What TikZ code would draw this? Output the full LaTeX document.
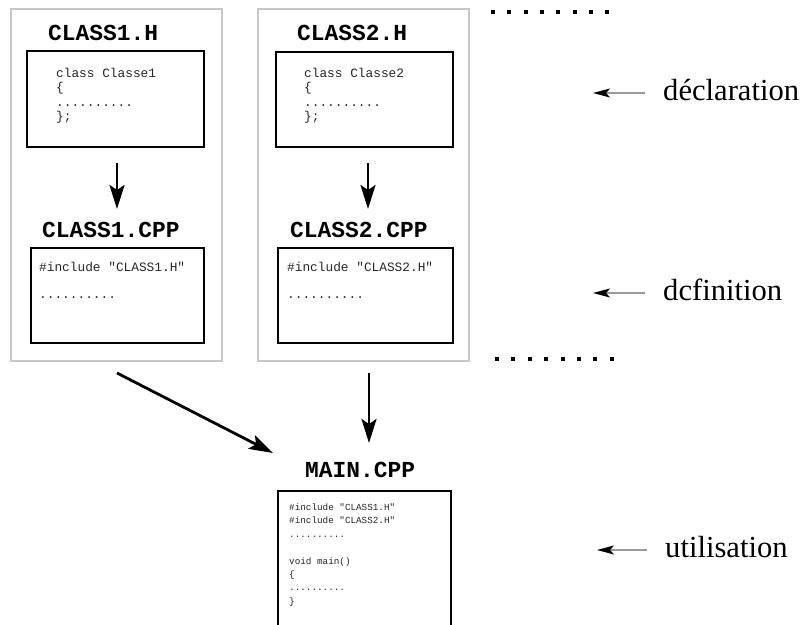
\documentclass[tikz,border=0pt]{standalone}
\usepackage{fontspec}
\setmainfont{Liberation Serif}
\setmonofont{Liberation Mono}
\usetikzlibrary{arrows.meta}
\tikzset{
  outerbox/.style={draw=black!22, line width=1.5pt},
  innerbox/.style={draw=black, line width=2.4pt},
  title/.style={anchor=base west, inner sep=0pt, font=\fontsize{22.9}{24}\selectfont\ttfamily\bfseries},
  code/.style={anchor=base west, inner sep=0pt, font=\fontsize{12.8}{14}\selectfont\ttfamily, text=black!85},
  smallcode/.style={anchor=base west, inner sep=0pt, font=\fontsize{9.3}{11}\selectfont\ttfamily, text=black!85},
  label/.style={anchor=base west, inner sep=0pt, font=\fontsize{30.6}{32}\selectfont},
  bigarrow/.style={line width=2.8pt, -{Stealth[length=24pt,width=15pt,inset=5pt]}},
  thinarrow/.style={draw=black!40, line width=1.2pt, -{Stealth[length=17pt,width=9pt,inset=4pt,color=black]}},
  dotsq/.style={fill=black, minimum size=4pt, inner sep=0pt, draw=none}
}
\begin{document}
\begin{tikzpicture}[x=1pt,y=-1pt]
\useasboundingbox (0,0) rectangle (803,624);
% outer grey boxes
\draw[outerbox] (11,9) rectangle (222,361);
\draw[outerbox] (258,9) rectangle (469,361);
% inner boxes
\draw[innerbox] (27,51) rectangle (204,147);
\draw[innerbox] (31,248) rectangle (204,343);
\draw[innerbox] (276,52) rectangle (453,147);
\draw[innerbox] (278,248) rectangle (453,343);
\draw[innerbox] (278,491) rectangle (451,632);
% titles
\node[title] (t1h) at (48,40) {CLASS1.H};
\node[title] (t2h) at (297,40) {CLASS2.H};
\node[title] (t1c) at (42,237) {CLASS1.CPP};
\node[title] (t2c) at (290,237) {CLASS2.CPP};
\node[title] (tm) at (305,477) {MAIN.CPP};
% code box 1
\node[code] (a1) at (56,77) {class Classe1};
\node[code] (a2) at (56,91.5) {\{};
\node[code] (a3) at (56,106) {..........};
\node[code] (a4) at (56,120.5) {\};};
% code box 2
\node[code] (b1) at (304,77) {class Classe2};
\node[code] (b2) at (304,91.5) {\{};
\node[code] (b3) at (304,106) {..........};
\node[code] (b4) at (304,120.5) {\};};
% cpp boxes
\node[code] (c1) at (39,271) {\#include "CLASS1.H"};
\node[code] (c2) at (39,298) {..........};
\node[code] (d1) at (287,271) {\#include "CLASS2.H"};
\node[code] (d2) at (287,298) {..........};
% main box
\node[smallcode] (m1) at (289,510.5) {\#include "CLASS1.H"};
\node[smallcode] (m2) at (289,523.9) {\#include "CLASS2.H"};
\node[smallcode] (m3) at (289,537.3) {..........};
\node[smallcode] (m4) at (289,564.1) {void main()};
\node[smallcode] (m5) at (289,577.5) {\{};
\node[smallcode] (m6) at (289,590.9) {..........};
\node[smallcode] (m7) at (289,604.3) {\}};
% arrow coordinates
\coordinate (p1s) at (117,163); \coordinate (p1e) at (117,209);
\coordinate (p2s) at (368,163); \coordinate (p2e) at (368,209);
\coordinate (p3s) at (117,373); \coordinate (p3e) at (273,453);
\coordinate (p4s) at (369,373); \coordinate (p4e) at (369,443);
\draw[bigarrow] (p1s) -- (p1e);
\draw[bigarrow] (p2s) -- (p2e);
\draw[bigarrow] (p3s) -- (p3e);
\draw[bigarrow] (p4s) -- (p4e);
% labels
\node[label] (ldec) at (663,100.5) {déclaration};
\node[label] (ldef) at (663,300.5) {dcfinition};
\node[label] (luti) at (665,557) {utilisation};
\coordinate (q1) at (645,93); \coordinate (q1e) at (593,93);
\coordinate (q2) at (645,293); \coordinate (q2e) at (593,293);
\coordinate (q3) at (647,550); \coordinate (q3e) at (597,550);
\draw[thinarrow] (q1) -- (q1e);
\draw[thinarrow] (q2) -- (q2e);
\draw[thinarrow] (q3) -- (q3e);
% dot rows
\foreach \i in {0,...,7} {
  \node[dotsq] (dt\i) at ({493+\i*16.3},12) {};
  \node[dotsq] (db\i) at ({497+\i*16.4},359) {};
}
\end{tikzpicture}
\end{document}
